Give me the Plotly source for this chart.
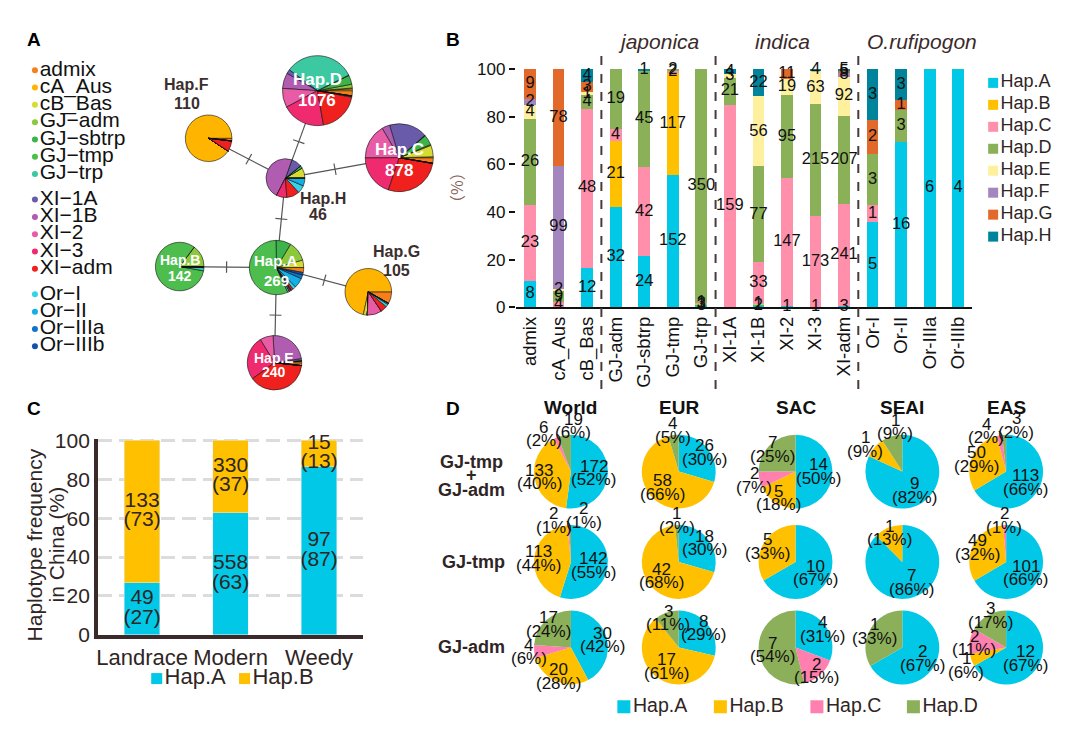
import math
import plotly.graph_objects as go

W, H = 1080, 744
FONT = "Liberation Sans, Arial, Helvetica, sans-serif"
DARK = "#2f2525"

# ===================== DATA =====================
# Panel B / panel A: haplotype counts per population group
groups = ["admix", "cA_Aus", "cB_Bas", "GJ-adm", "GJ-sbtrp", "GJ-tmp", "GJ-trp",
          "XI-1A", "XI-1B", "XI-2", "XI-3", "XI-adm", "Or-I", "Or-II", "Or-IIIa", "Or-IIIb"]
group_names_a = ["admix", "cA_Aus", "cB_Bas", "GJ−adm", "GJ−sbtrp", "GJ−tmp", "GJ−trp",
                 "XI−1A", "XI−1B", "XI−2", "XI−3", "XI−adm", "Or−I", "Or−II", "Or−IIIa", "Or−IIIb"]
group_block = [0, 0, 0, 0, 0, 0, 0, 1, 1, 1, 1, 1, 2, 2, 2, 2]
haplotypes = ["Hap.A", "Hap.B", "Hap.C", "Hap.D", "Hap.E", "Hap.F", "Hap.G", "Hap.H"]
hapA = [8, 0, 12, 32, 24, 152, 3, 0, 2, 1, 1, 3, 5, 16, 6, 4]
hapB = [0, 0, 0, 21, 0, 117, 3, 0, 1, 0, 0, 0, 0, 0, 0, 0]
hapC = [23, 4, 48, 4, 42, 2, 1, 159, 33, 147, 173, 241, 1, 0, 0, 0]
hapD = [26, 9, 4, 19, 45, 2, 350, 21, 77, 95, 215, 207, 3, 3, 0, 0]
hapE = [4, 2, 1, 0, 0, 0, 0, 3, 56, 19, 63, 92, 0, 0, 0, 0]
hapF = [2, 99, 0, 0, 0, 0, 0, 0, 0, 0, 0, 8, 0, 0, 0, 0]
hapG = [9, 78, 3, 0, 0, 0, 0, 0, 0, 11, 0, 5, 2, 1, 0, 0]
hapH = [0, 0, 4, 0, 1, 0, 0, 4, 22, 0, 4, 5, 3, 3, 0, 0]
hap_counts = [hapA, hapB, hapC, hapD, hapE, hapF, hapG, hapH]
network_totals = [269, 142, 878, 1076, 240, 110, 105, 46]
network_edges = [("Hap.H", "Hap.D"), ("Hap.H", "Hap.F"), ("Hap.H", "Hap.C"), ("Hap.H", "Hap.A"),
                 ("Hap.A", "Hap.B"), ("Hap.A", "Hap.G"), ("Hap.A", "Hap.E")]
subspecies = ["japonica", "indica", "O.rufipogon"]

# Panel C
c_types = ["Landrace", "Modern", "Weedy"]
c_hapA_n = [49, 558, 97]
c_hapA_pct = [27, 63, 87]
c_hapB_n = [133, 330, 15]
c_hapB_pct = [73, 37, 13]

# Panel D
d_regions = ["World", "EUR", "SAC", "SEAI", "EAS"]
d_haps = ["Hap.A", "Hap.B", "Hap.C", "Hap.D"]
d_tmpadm_n = [[172, 133, 6, 19], [26, 58, 0, 4], [14, 5, 2, 7], [9, 1, 0, 1], [113, 50, 4, 3]]
d_tmpadm_pct = [[52, 40, 2, 6], [30, 66, 0, 5], [50, 18, 7, 25], [82, 9, 0, 9], [66, 29, 2, 2]]
d_tmp_n = [[142, 113, 2, 2], [18, 42, 0, 1], [10, 5, 0, 0], [7, 1, 0, 0], [101, 49, 2, 0]]
d_tmp_pct = [[55, 44, 1, 1], [30, 68, 0, 2], [67, 33, 0, 0], [86, 13, 0, 0], [66, 32, 1, 0]]
d_adm_n = [[30, 20, 4, 17], [8, 17, 0, 3], [4, 0, 2, 7], [2, 0, 0, 1], [12, 1, 2, 3]]
d_adm_pct = [[42, 28, 6, 24], [29, 61, 0, 11], [31, 0, 15, 54], [67, 0, 0, 33], [67, 6, 11, 17]]

# ===================== STYLE / LAYOUT =====================
hap_colors = ["#00C8E6", "#FFC000", "#FF8FAB", "#8BB158", "#FFF09E", "#A386BE", "#E2692A", "#00849B"]
group_colors = ["#F77F1A", "#FFB400", "#D6DC32", "#8CC83C", "#3CB44B", "#4DBE4D", "#3CC8A0",
                "#6A5BAA", "#B05CB0", "#E85BA5", "#F02A6E", "#F0201E",
                "#36D2EA", "#12B0E6", "#1274C8", "#1452AA"]
d_colors = ["#00C8E6", "#FFC000", "#FF7FAF", "#8CB05A"]

# node layout of the network (px): centre x, centre y, radius
net_pos = {"Hap.A": (275, 265, 28), "Hap.B": (178, 264, 25), "Hap.C": (398, 152, 35),
           "Hap.D": (316, 83, 36), "Hap.E": (273, 363, 28), "Hap.F": (207, 132, 24),
           "Hap.G": (367, 290, 24), "Hap.H": (284, 173, 20)}
net_inner = {"Hap.A": (-7, 13, 15), "Hap.B": (-7, 10, 14), "Hap.C": (-8, 13, 17),
             "Hap.D": (-11, 10, 17), "Hap.E": (-5, 10, 14)}
net_outer = {"Hap.F": (185, 77, 185, 96), "Hap.H": (322, 194, 317, 210), "Hap.G": (395, 249, 395, 268)}

B_X0, B_X1, B_YB, B_YT = 514.7, 972.3, 306.0, 60.7
C_X0, C_X1, C_YB, C_YT = 96.0, 362.0, 643.0, 441.0
D_COLX = [570, 678, 795, 902, 1006]
D_ROWY = [475, 568, 656]
D_R = 38


def fx(x):
    return x / W


def fy(y):
    return 1 - y / H


fig = go.Figure()

# ---------- Panel B: stacked bars ----------
totals = [sum(hc[g] for hc in hap_counts) for g in range(len(groups))]
pct = [[100.0 * hc[g] / totals[g] for g in range(len(groups))] for hc in hap_counts]
for h, name in enumerate(haplotypes):
    fig.add_trace(go.Bar(x=groups, y=pct[h], name=name, width=0.41,
                         marker=dict(color=hap_colors[h], line=dict(width=0)),
                         xaxis="x", yaxis="y", showlegend=False, hoverinfo="x+name"))
lx, ly, lt = [], [], []
cum = [0.0] * len(groups)
for h in range(len(haplotypes)):
    for g in range(len(groups)):
        n = hap_counts[h][g]
        if n > 0:
            lx.append(groups[g])
            ly.append(cum[g] + pct[h][g] / 2)
            lt.append(str(n))
            cum[g] += pct[h][g]
fig.add_trace(go.Scatter(x=lx, y=ly, text=lt, mode="text", xaxis="x", yaxis="y",
                         textfont=dict(size=16.5, color="#111", family=FONT),
                         cliponaxis=False, showlegend=False, hoverinfo="skip"))

# ---------- overlay pixel axis (x2/y2) ----------
ex, ey, tx, ty = [], [], [], []
for a, b in network_edges:
    x1, y1, r1 = net_pos[a]
    x2, y2, r2 = net_pos[b]
    ex += [x1, x2, None]
    ey += [y1, y2, None]
    d = math.hypot(x2 - x1, y2 - y1)
    ux, uy = (x2 - x1) / d, (y2 - y1) / d
    mx = (x1 + ux * r1 + x2 - ux * r2) / 2
    my = (y1 + uy * r1 + y2 - uy * r2) / 2
    tx += [mx + uy * 6, mx - uy * 6, None]
    ty += [my - ux * 6, my + ux * 6, None]
fig.add_trace(go.Scatter(x=ex, y=ey, mode="lines", line=dict(color="#555", width=1.2),
                         xaxis="x2", yaxis="y2", showlegend=False, hoverinfo="skip"))
fig.add_trace(go.Scatter(x=tx, y=ty, mode="lines", line=dict(color="#555", width=1.2),
                         xaxis="x2", yaxis="y2", showlegend=False, hoverinfo="skip"))

# panel A legend (group dots)
ay = [62 + 17.8 * i + 8.5 * group_block[i] for i in range(len(groups))]
fig.add_trace(go.Scatter(x=[33] * len(groups), y=ay, mode="markers+text", text=group_names_a,
                         textposition="middle right",
                         marker=dict(color=group_colors, size=6),
                         textfont=dict(size=21, color="#111", family=FONT),
                         xaxis="x2", yaxis="y2", cliponaxis=False, showlegend=False, hoverinfo="skip"))

# panel B legend
fig.add_trace(go.Scatter(x=[993] * len(haplotypes), y=[75 + 22.6 * i for i in range(len(haplotypes))],
                         mode="markers+text", text=haplotypes, textposition="middle right",
                         marker=dict(color=hap_colors, size=10, symbol="square"),
                         textfont=dict(size=18, color=DARK, family=FONT),
                         xaxis="x2", yaxis="y2", cliponaxis=False, showlegend=False, hoverinfo="skip"))

# panel C legend
fig.add_trace(go.Scatter(x=[155, 243], y=[688, 688], mode="markers+text", text=["Hap.A", "Hap.B"],
                         textposition="middle right",
                         marker=dict(color=hap_colors[:2], size=11, symbol="square"),
                         textfont=dict(size=22, color=DARK, family=FONT),
                         xaxis="x2", yaxis="y2", cliponaxis=False, showlegend=False, hoverinfo="skip"))

# panel D legend
fig.add_trace(go.Scatter(x=[623 + 96.7 * i for i in range(4)], y=[717] * 4, mode="markers+text",
                         text=d_haps, textposition="middle right",
                         marker=dict(color=d_colors, size=13, symbol="square"),
                         textfont=dict(size=19.5, color=DARK, family=FONT),
                         xaxis="x2", yaxis="y2", cliponaxis=False, showlegend=False, hoverinfo="skip"))

# ---------- Panel A: network pies ----------
for h, name in enumerate(haplotypes):
    cx, cy, r = net_pos[name]
    fig.add_trace(go.Pie(values=hap_counts[h], labels=group_names_a, sort=False,
                         direction="counterclockwise", rotation=90,
                         marker=dict(colors=group_colors, line=dict(color="#111", width=0.6)),
                         textinfo="none", hoverinfo="label+value", showlegend=False,
                         domain=dict(x=[fx(cx - r), fx(cx + r)], y=[fy(cy + r), fy(cy - r)])))

# ---------- Panel C: bars ----------
c_tot = [a + b for a, b in zip(c_hapA_n, c_hapB_n)]
c_A = [100.0 * a / t for a, t in zip(c_hapA_n, c_tot)]
c_B = [100.0 * b / t for b, t in zip(c_hapB_n, c_tot)]
fig.add_trace(go.Bar(x=c_types, y=c_A, name="Hap.A", width=0.4, marker=dict(color=hap_colors[0]),
                     xaxis="x3", yaxis="y3", showlegend=False))
fig.add_trace(go.Bar(x=c_types, y=c_B, name="Hap.B", width=0.4, marker=dict(color=hap_colors[1]),
                     xaxis="x3", yaxis="y3", showlegend=False))
c_unit = (C_YB - C_YT) / 100.0
cx_l, cy_l, ct_l = [], [], []
for i, t in enumerate(c_types):
    for mid, n, p in [(c_A[i] / 2, c_hapA_n[i], c_hapA_pct[i]),
                      (c_A[i] + c_B[i] / 2, c_hapB_n[i], c_hapB_pct[i])]:
        cx_l += [t, t]
        cy_l += [mid + 10 / c_unit, mid - 10 / c_unit]
        ct_l += [str(n), "(%d)" % p]
fig.add_trace(go.Scatter(x=cx_l, y=cy_l, text=ct_l, mode="text", xaxis="x3", yaxis="y3",
                         textfont=dict(size=21, color=DARK, family=FONT),
                         cliponaxis=False, showlegend=False, hoverinfo="skip"))

# ===================== annotations =====================
ann = []


def add_text(x, y, text, size, color=DARK, bold=False, italic=False, angle=0, family=FONT, xanchor="center"):
    t = "<b>%s</b>" % text if bold else text
    if italic:
        t = "<i>%s</i>" % t
    ann.append(dict(x=x, y=y, xref="x2", yref="y2", text=t, showarrow=False, textangle=angle,
                    xanchor=xanchor, yanchor="middle",
                    font=dict(size=size, color=color, family=family)))


# ---------- Panel D: pies (labels as annotations so they sit above the pies) ----------
d_n_all = [d_tmpadm_n, d_tmp_n, d_adm_n]
d_p_all = [d_tmpadm_pct, d_tmp_pct, d_adm_pct]
for ri in range(3):
    for ci in range(5):
        vals = d_n_all[ri][ci]
        cx, cy = D_COLX[ci], D_ROWY[ri]
        fig.add_trace(go.Pie(values=vals, labels=d_haps, sort=False, direction="clockwise", rotation=0,
                             marker=dict(colors=d_colors, line=dict(width=0)),
                             textinfo="none", hoverinfo="label+value", showlegend=False,
                             domain=dict(x=[fx(cx - D_R), fx(cx + D_R)], y=[fy(cy + D_R), fy(cy - D_R)])))
        tot = float(sum(vals))
        c0 = 0.0
        labs = []
        for k, v in enumerate(vals):
            if v == 0:
                continue
            f = v / tot
            th = 2 * math.pi * (c0 + f / 2)
            rr = 0.6 if f > 0.45 else (0.85 if f > 0.1 else 1.12)
            labs.append([cx + math.sin(th) * rr * D_R, cy - math.cos(th) * rr * D_R, v, k])
            c0 += f
        # push apart labels of neighbouring thin slices
        for i in range(len(labs)):
            for j in range(i + 1, len(labs)):
                dx = labs[j][0] - labs[i][0]
                dy = labs[j][1] - labs[i][1]
                if math.hypot(dx, dy) < 28:
                    if abs(dx) >= abs(dy):
                        m = (labs[i][0] + labs[j][0]) / 2
                        left, right = (labs[i], labs[j]) if dx >= 0 else (labs[j], labs[i])
                        left[0], right[0] = m - 15, m + 15
                        right[1] -= 5
                    else:
                        m = (labs[i][1] + labs[j][1]) / 2
                        top, bot = (labs[i], labs[j]) if dy >= 0 else (labs[j], labs[i])
                        top[1], bot[1] = m - 14, m + 14
        for x, y, v, k in labs:
            add_text(x, y - 7, str(v), 17, color="#111")
            add_text(x, y + 7, "(%d%%)" % d_p_all[ri][ci][k], 17, color="#111")

for letter, (x, y) in zip("ABCD", [(32, 30), (452, 30), (32, 410), (452, 410)]):
    add_text(x, y, letter, 19, color="#000", bold=True)

# network labels
for h, name in enumerate(haplotypes):
    cx, cy, r = net_pos[name]
    if name in net_inner:
        dyn, dyc, fs = net_inner[name]
        add_text(cx, cy + dyn, name, fs, color="white", bold=True)
        add_text(cx, cy + dyc, str(network_totals[h]), fs, color="white", bold=True)
    else:
        x1, y1, x2, y2 = net_outer[name]
        add_text(x1, y1, name, 16, color="#3b2e2e", bold=True)
        add_text(x2, y2, str(network_totals[h]), 16, color="#3b2e2e", bold=True)

# panel B titles
for s, x in zip(subspecies, [658, 782, 922]):
    add_text(x, 32, s, 21, color="#3a2a2a", italic=True)
add_text(455, 183, "（%）", 16, color="#8a6458", angle=-90, family="Noto Sans CJK SC")

# panel C axis title (two lines, tight spacing)
add_text(33, 550, "Haplotype frequency", 21, color=DARK, angle=-90)
add_text(55, 550, "in China (%)", 21, color=DARK, angle=-90)

# panel D headers
for reg, x in zip(d_regions, D_COLX):
    add_text(x, 409, reg, 19, color="#111", bold=True)
add_text(470, 465, "GJ-tmp", 18, bold=True)
add_text(470, 479, "+", 18, bold=True)
add_text(470, 494, "GJ-adm", 18, bold=True)
add_text(472, 568, "GJ-tmp", 18, bold=True)
add_text(470, 655, "GJ-adm", 18, bold=True)

# dashed separators in panel B
shapes = []
for xv in [2.5, 6.5, 11.5]:
    shapes.append(dict(type="line", xref="x", yref="paper", x0=xv, x1=xv, y0=fy(390), y1=fy(45),
                       line=dict(color="#4a3a3a", width=2, dash="dash")))

fig.update_layout(
    width=W, height=H, margin=dict(l=0, r=0, t=0, b=0),
    paper_bgcolor="white", plot_bgcolor="rgba(0,0,0,0)",
    barmode="stack", showlegend=False,
    font=dict(family=FONT, color=DARK),
    annotations=ann, shapes=shapes,
    xaxis=dict(domain=[fx(B_X0), fx(B_X1)], anchor="y", type="category", range=[-0.5, 15.5],
               showline=True, linecolor="#111", linewidth=2, ticks="", tickangle=-90,
               tickfont=dict(size=18.5, color="#111", family=FONT), showgrid=False, zeroline=False),
    yaxis=dict(domain=[fy(B_YB), fy(B_YT)], anchor="x", range=[0, 100], tickvals=[0, 20, 40, 60, 80, 100],
               showline=False, ticks="outside", ticklen=6, tickwidth=1.5, tickcolor="#111",
               tickfont=dict(size=17, color="#111", family=FONT), showgrid=False, zeroline=False),
    xaxis2=dict(domain=[0, 1], anchor="y2", range=[0, W], visible=False, fixedrange=True),
    yaxis2=dict(domain=[0, 1], anchor="x2", range=[H, 0], visible=False, fixedrange=True),
    xaxis3=dict(domain=[fx(C_X0), fx(C_X1)], anchor="y3", type="category", range=[-0.5, 2.5],
                showline=True, linecolor="#3a2a2a", linewidth=3.5, ticks="",
                tickfont=dict(size=22, color=DARK, family=FONT), showgrid=False, zeroline=False),
    yaxis3=dict(domain=[fy(C_YB), fy(C_YT)], anchor="x3", range=[0, 101], tickvals=[0, 20, 40, 60, 80, 100],
                showline=True, linecolor="#3a2a2a", linewidth=3.5, ticks="",
                tickfont=dict(size=21, color=DARK, family=FONT),
                showgrid=True, gridcolor="#dcdcdc", gridwidth=3, griddash="14px,7px", zeroline=False),
)

fig.write_html("out.html", config={"displayModeBar": False},
               post_script="document.body.style.margin='0px';")
